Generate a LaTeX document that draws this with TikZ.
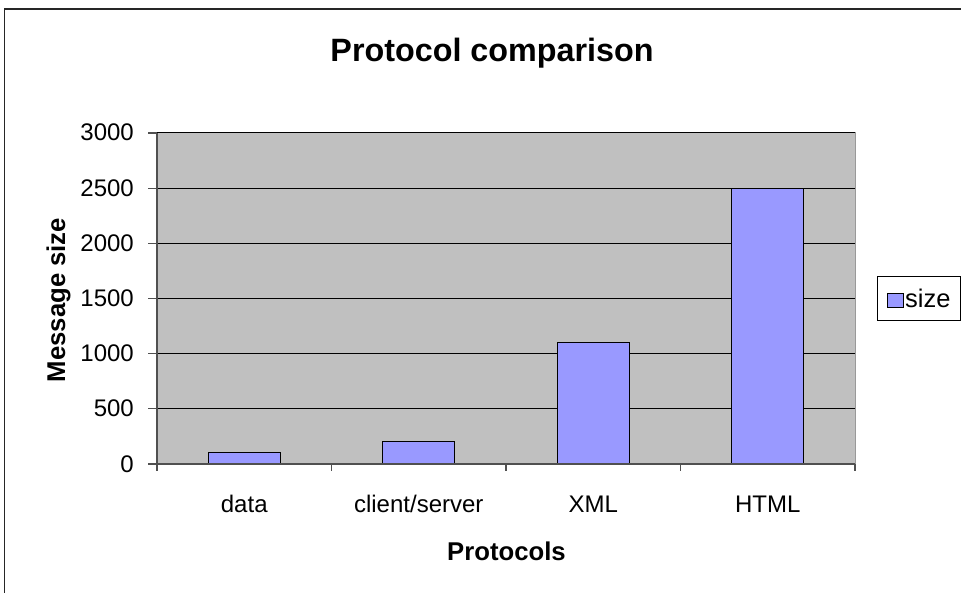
\documentclass[tikz,border=0pt]{standalone}
\usepackage{fontspec}
\setmainfont{Liberation Sans}
\definecolor{plotgray}{HTML}{C0C0C0}
\definecolor{barblue}{HTML}{9999FF}
\definecolor{axisgray}{HTML}{505050}
\begin{document}
\begin{tikzpicture}[x=1pt,y=-1pt,
  bar/.style={fill=barblue,draw=black,line width=1pt},
  grid/.style={draw=black,line width=1pt},
  axis/.style={draw=axisgray,line width=1.2pt},
  ticklab/.style={inner sep=0pt,font=\fontsize{24}{28}\selectfont},
  axlab/.style={inner sep=0pt,font=\fontsize{25.7}{30}\selectfont\bfseries},
  titlelab/.style={inner sep=0pt,font=\fontsize{32.3}{38}\selectfont\bfseries}]
\useasboundingbox (0,0) rectangle (961,593);
\clip (0,0) rectangle (961,593);
\fill[white] (0,0) rectangle (961,593);
% chart frame (cut at the right and bottom)
\draw[line width=1.5pt,black!85] (4.5,620) -- (4.5,9) -- (990,9);
% plot area
\fill[plotgray] (157,133) rectangle (855,464);
\draw[gray!80,line width=1pt] (157,133) -- (855,133) -- (855,464);
% gridlines and value ticks (331 units of height for 3000)
\foreach \v [evaluate=\v as \yy using 464-\v/3000*331] in {500,1000,...,3000}{
  \draw[grid] (157,\yy) -- (855,\yy);
}
\foreach \v [evaluate=\v as \yy using 464-\v/3000*331] in {0,500,...,3000}{
  \draw[axis] (148,\yy) -- (157,\yy);
  \node[ticklab,anchor=base east] (t\v) at (134,\yy+8) {\v};
}
% bars
\foreach \i/\val in {0/100,1/200,2/1100,3/2500}{
  \pgfmathsetmacro{\cx}{157+174.5*(\i+0.5)}
  \pgfmathsetmacro{\bartop}{464-\val/3000*331}
  \draw[bar] (\cx-36,464) rectangle (\cx+36,\bartop);
}
% axes and category ticks
\draw[axis] (157,133) -- (157,464) -- (855,464);
\foreach \i in {0,...,4}{
  \draw[axis] (157+174.5*\i,464) -- (157+174.5*\i,471);
}
% category labels
\foreach \i/\lab in {0/data,1/client\slash server,2/XML,3/HTML}{
  \node[ticklab,anchor=base] (c\i) at (157+174.5*\i+87.25,512) {\lab};
}
% titles
\node[titlelab,anchor=base] (title) at (492,62) {Protocol comparison};
\node[axlab,anchor=base] (xlab) at (506.5,560) {Protocols};
\node[axlab,anchor=base,rotate=90] (ylab) at (65,300) {Message size};
% legend
\draw[black,line width=1pt,fill=white] (877,277) rectangle (960.5,321);
\draw[black,line width=0.8pt,fill=barblue] (887,293) rectangle (903,307);
\node[ticklab,anchor=base west,font=\fontsize{25.5}{30}\selectfont] (leg) at (905,307.3) {size};
\end{tikzpicture}
\end{document}
